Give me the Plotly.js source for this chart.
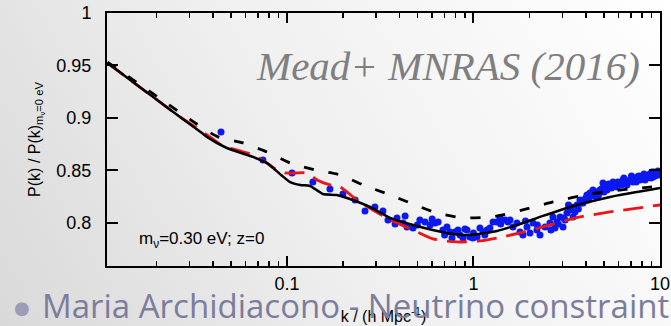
<!DOCTYPE html>
<html>
<head>
<meta charset="utf-8">
<script src="https://cdn.plot.ly/plotly-3.0.1.min.js"></script>
<style>
html,body{margin:0;padding:0;width:671px;height:326px;overflow:hidden;
background:linear-gradient(60deg,#d9d9d9 0%,#efefef 45%,#ffffff 100%);}
#chart{width:671px;height:326px;}
</style>
</head>
<body>
<div id="chart"></div>
<script>
// ---- data ----
const solidK = [0.0109,0.0267,0.0350,0.0372,0.0476,0.0658,0.0782,0.093,0.104,0.118,0.133,0.156,0.185,0.210,0.279,0.357,0.474,0.721,0.957,1.336,1.775,2.36,3.59,5.40,10];
const solidV = [0.9524,0.901,0.8857,0.882,0.8714,0.8629,0.857,0.8457,0.839,0.8362,0.8352,0.8276,0.8267,0.8238,0.8152,0.8048,0.7981,0.7905,0.7886,0.7924,0.799,0.8067,0.8171,0.8248,0.8333];

const dashK = [0.0109,0.0242,0.0322,0.0427,0.0581,0.0782,0.104,0.1413,0.1924,0.256,0.357,0.474,0.637,0.879,1.225,1.439,2.009,2.667,4.213,6.902,10];
const dashV = [0.9533,0.9105,0.8952,0.882,0.8762,0.8676,0.8571,0.8505,0.8457,0.8362,0.8267,0.818,0.8095,0.8048,0.8057,0.8076,0.8143,0.820,0.8276,0.8324,0.835];

const redK = [0.0109,0.0267,0.0310,0.0386,0.0454,0.0540,0.0658,0.0782,0.0884,0.0976,0.1104,0.128,0.145,0.170,0.1924,0.237,0.289,0.357,0.474,0.607,0.817,1.083,1.336,1.775,2.570,3.724,5.395,10];
const redV = [0.9524,0.901,0.8933,0.882,0.8733,0.8695,0.8648,0.857,0.8505,0.8476,0.8476,0.8476,0.841,0.8362,0.8343,0.8219,0.8124,0.8029,0.7933,0.7848,0.7819,0.7829,0.7857,0.7905,0.7981,0.8057,0.8105,0.8171];

const simK = [0.0443,0.0743,0.1064,0.1377,0.170,0.1995,0.232,0.262,0.296,0.327,0.348,0.38,0.389,0.419,0.43,0.440,0.474,0.50,0.516,0.550,0.585,0.60,0.622,0.646,0.686,0.70,0.721,0.748,0.767,0.796,0.826,0.847,0.879,0.90,0.923,0.957,0.993,1.0,1.045,1.083,1.125,1.15,1.181,1.225,1.273,1.336,1.387,1.40,1.475,1.531,1.570,1.629,1.710,1.775,1.841,1.90,1.936,2.009,2.084,2.189,2.20,2.273,2.417,2.570,2.60,2.667,2.735,2.805,2.85,2.911,3.021,3.05,3.10,3.172,3.23,3.291,3.35,3.418,3.50,3.589,3.65,3.724,3.80,3.864,3.96,4.0,4.059,4.13,4.213,4.30,4.372,4.48,4.55,4.592,4.68,4.766,4.85,4.945,5.0,5.07,5.196,5.30,5.395,5.50,5.597,5.65,5.74,5.879,5.95,6.103,6.20,6.334,6.40,6.49,6.653,6.75,6.902,7.03,7.10,7.161,7.35,7.45,7.530,7.70,7.813,7.95,8.110,8.20,8.31,8.511,8.65,8.831,8.95,9.05,9.163,9.30,9.40,9.50,9.638,9.75,9.9];
const simV = [0.8867,0.860,0.8476,0.839,0.8324,0.8276,0.8219,0.8114,0.8152,0.8114,0.8029,0.7990,0.8048,0.800,0.8067,0.7962,0.7952,0.7981,0.8029,0.801,0.7981,0.8038,0.800,0.801,0.7933,0.7886,0.7962,0.7914,0.7857,0.7914,0.7933,0.7886,0.7857,0.7943,0.7933,0.7867,0.7857,0.7905,0.7867,0.7952,0.7914,0.7886,0.7933,0.7952,0.801,0.801,0.8048,0.7990,0.8029,0.801,0.8029,0.7962,0.800,0.7914,0.7886,0.8019,0.7962,0.7905,0.800,0.7933,0.7981,0.7886,0.7962,0.800,0.7933,0.8057,0.7952,0.801,0.7990,0.8057,0.7962,0.8048,0.8029,0.8095,0.8171,0.8124,0.8152,0.8057,0.8105,0.8171,0.8133,0.8219,0.8190,0.819,0.8219,0.8238,0.8267,0.8219,0.8286,0.8257,0.8314,0.8286,0.8295,0.8248,0.8267,0.8314,0.8324,0.8381,0.8295,0.8352,0.8314,0.8371,0.8343,0.8333,0.839,0.8352,0.8371,0.8343,0.8390,0.8381,0.8362,0.841,0.8429,0.8381,0.8362,0.8400,0.841,0.8448,0.8419,0.839,0.841,0.8390,0.8438,0.8448,0.841,0.8429,0.8448,0.8467,0.841,0.8429,0.8457,0.8467,0.8429,0.8486,0.8438,0.8486,0.8448,0.8457,0.8476,0.8495,0.8457];

const xMajorTicks = [0.1, 1, 10];
const xMajorLabels = ['0.1', '1', '10'];
const xMinorTicks = [0.02,0.03,0.04,0.05,0.06,0.07,0.08,0.09,0.2,0.3,0.4,0.5,0.6,0.7,0.8,0.9,2,3,4,5,6,7,8,9];
const yTicks = [0.8, 0.85, 0.9, 0.95, 1];
const yLabels = ['0.8', '0.85', '0.9', '0.95', '1'];

const traces = [
  {x: simK, y: simV, type: 'scatter', mode: 'markers',
   marker: {color: 'rgb(12,24,240)', size: 7}, hoverinfo: 'skip'},
  {x: redK, y: redV, type: 'scatter', mode: 'lines',
   line: {color: 'rgb(238,20,20)', width: 2.8, dash: '20px,10px', shape: 'spline', smoothing: 0.6}},
  {x: dashK, y: dashV, type: 'scatter', mode: 'lines',
   line: {color: 'black', width: 2.8, dash: '10px,15px', shape: 'spline', smoothing: 0.6}},
  {x: solidK, y: solidV, type: 'scatter', mode: 'lines',
   line: {color: 'black', width: 2.5, shape: 'spline', smoothing: 0.6}}
];

const axisFont = {family: 'Liberation Sans, Arial, sans-serif', size: 18, color: 'black'};

const layout = {
  width: 671, height: 326,
  margin: {l: 107, r: 11, t: 13, b: 60},
  paper_bgcolor: 'rgba(0,0,0,0)',
  plot_bgcolor: 'rgba(0,0,0,0)',
  showlegend: false,
  xaxis: {
    type: 'log', range: [-1.965, 1], autorange: false,
    tickmode: 'array', tickvals: xMajorTicks, ticktext: xMajorLabels,
    ticks: 'inside', ticklen: 10, tickwidth: 2, tickcolor: 'black',
    minor: {tickmode: 'array', tickvals: xMinorTicks, ticks: 'inside', ticklen: 5, tickwidth: 1.5, tickcolor: 'black', showgrid: false},
    showline: true, linecolor: 'black', linewidth: 2, mirror: 'ticks',
    showgrid: false, zeroline: false,
    tickfont: axisFont,
    title: {text: 'k / (h Mpc<sup>-1</sup>)', font: {family: 'Liberation Sans, Arial, sans-serif', size: 16, color: 'black'}, standoff: 18}
  },
  yaxis: {
    range: [0.759, 1.0], autorange: false,
    tickmode: 'array', tickvals: yTicks, ticktext: yLabels,
    ticks: 'inside', ticklen: 11, tickwidth: 2, tickcolor: 'black',
    showline: true, linecolor: 'black', linewidth: 2, mirror: 'ticks',
    showgrid: false, zeroline: false,
    tickfont: axisFont, ticklabelstandoff: 10,
    title: {text: 'P(k) / P(k)<sub>m<sub>ν</sub>=0 eV</sub>', font: {family: 'Liberation Sans, Arial, sans-serif', size: 16, color: 'black'}, standoff: 12}
  },
  annotations: [
    {xref: 'paper', yref: 'paper', x: 0.9675, y: 0.79, xanchor: 'right', yanchor: 'middle',
     text: '<i>Mead+ MNRAS (2016)</i>', showarrow: false,
     font: {family: 'Liberation Serif, Times New Roman, serif', size: 41, color: '#7f7f7f'}},
    {xref: 'paper', yref: 'paper', x: 0.054, y: 0.103, xanchor: 'left', yanchor: 'middle',
     text: 'm<sub>ν</sub>=0.30 eV; z=0', showarrow: false,
     font: {family: 'Liberation Sans, Arial, sans-serif', size: 17, color: 'black'}},
    {xref: 'paper', yref: 'paper', x: -0.121, y: -0.158, xanchor: 'left', yanchor: 'middle',
     text: 'Maria Archidiacono - Neutrino constraints', showarrow: false,
     font: {family: 'Open Sans, sans-serif', size: 33, color: '#7c7c9c'}},
    {xref: 'paper', yref: 'paper', x: -0.171, y: -0.165, xanchor: 'left', yanchor: 'middle',
     text: '●', showarrow: false,
     font: {family: 'DejaVu Sans, sans-serif', size: 18, color: '#9c9cb4'}}
  ]
};

Plotly.newPlot('chart', traces, layout, {staticPlot: true, displayModeBar: false});
</script>
</body>
</html>
